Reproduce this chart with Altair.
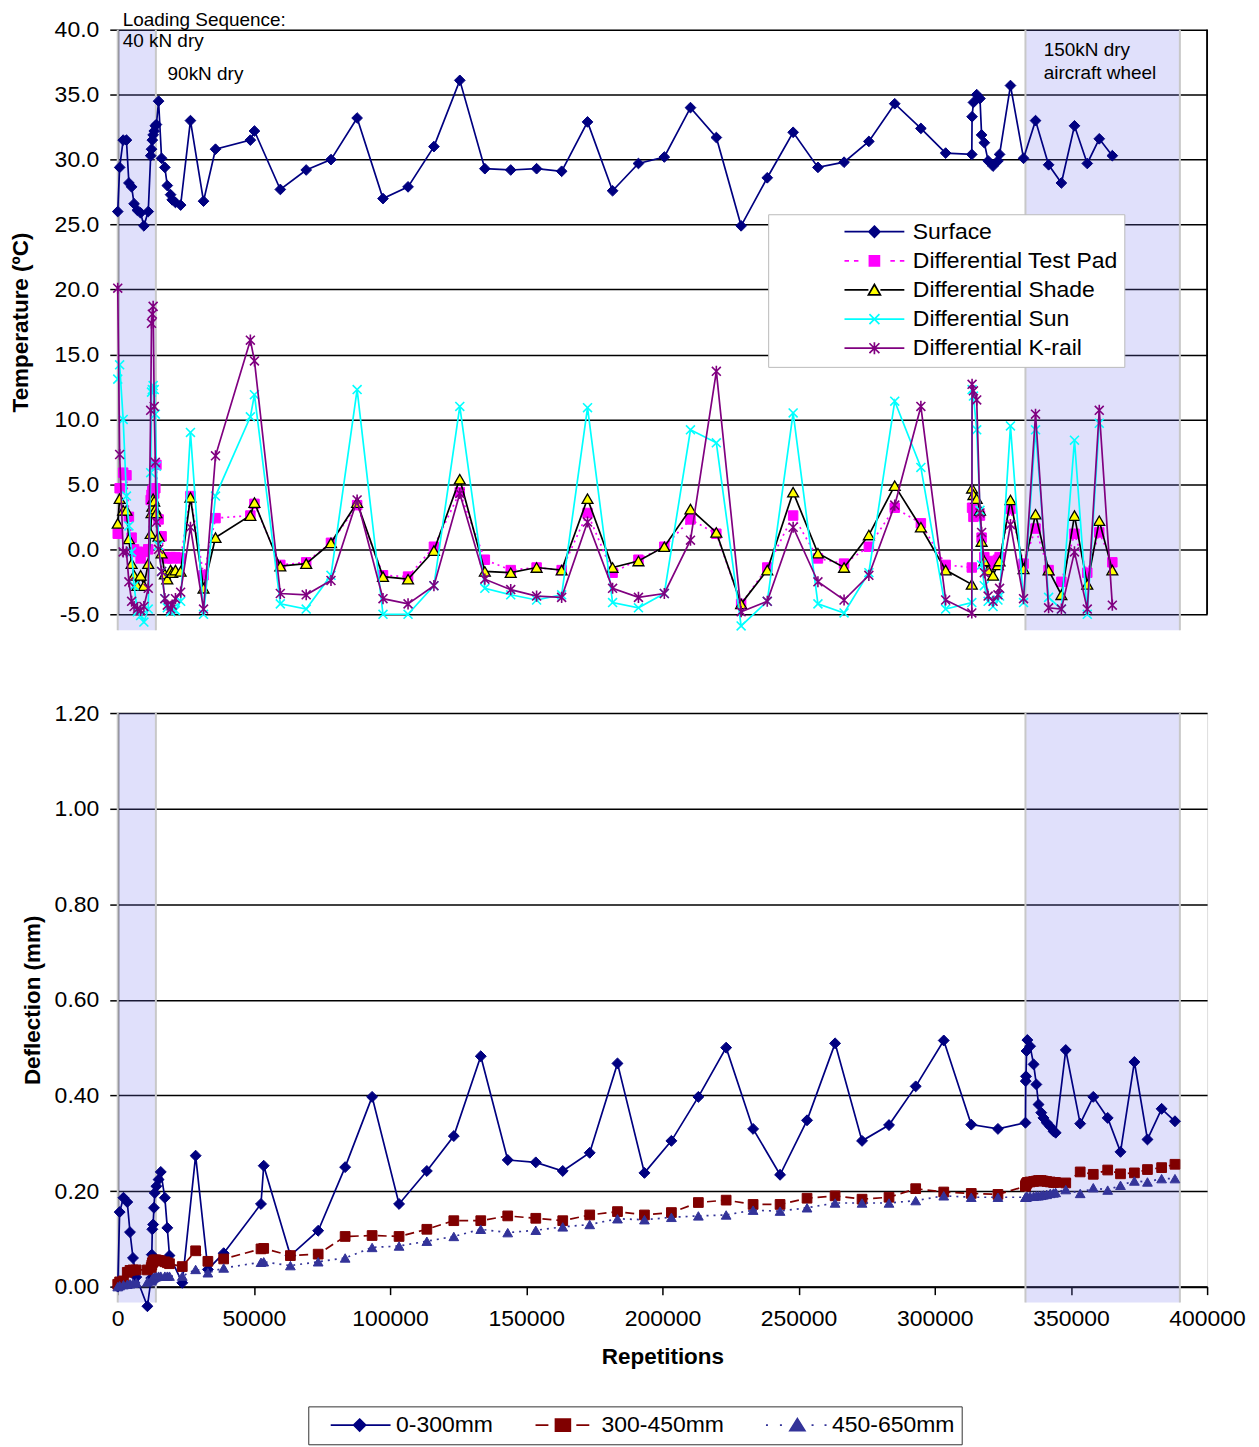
import altair as alt
import pandas as pd

FONT = "Liberation Sans"

# ---------------- Temperature panel ----------------
temp_reps = ([0, 700, 2000, 3200, 4100, 5100, 6000, 7200, 8400, 9600, 11200,
              12100, 12400, 12700, 13000, 13400, 13800, 14200, 15000, 16100, 17300,
              18200, 19400, 20000, 21200, 23100]
             + [26700, 31500, 35900, 48700, 50200, 59700, 69200, 78300, 87900, 97400,
                106600, 116100, 125600, 134800, 144300, 153800, 163000, 172500, 181700,
                191200, 200700, 210300, 219800, 228900, 238500, 248000, 257100, 266700,
                275800, 285300, 294900, 304000]
             + [313600, 313700, 314200, 315400, 316600, 317200, 318200, 319600, 321400,
                323200, 323800]
             + [327800, 332600, 337000, 341800, 346500, 351300, 356000, 360400, 365200])

surface = ([26.0, 29.4, 31.5, 31.5, 28.2, 27.9, 26.6, 26.1, 25.9, 24.9, 26.0, 30.3, 30.8,
            31.5, 31.9, 32.2, 32.6, 32.7, 34.5, 30.1, 29.4, 28.0, 27.3, 26.9, 26.7, 26.5]
           + [33.0, 26.8, 30.8, 31.5, 32.2, 27.7, 29.2, 30.0, 33.2, 27.0, 27.9, 31.0, 36.1,
              29.3, 29.2, 29.3, 29.1, 32.9, 27.6, 29.7, 30.2, 34.0, 31.7, 24.9, 28.6, 32.1,
              29.4, 29.8, 31.4, 34.3, 32.4, 30.5]
           + [30.4, 33.3, 34.4, 35.0, 34.7, 31.9, 31.3, 29.9, 29.5, 29.9, 30.4]
           + [35.7, 30.1, 33.0, 29.6, 28.2, 32.6, 29.7, 31.6, 30.3])

test_pad = ([1.2, 4.7, 5.9, 5.7, 2.5, 0.9, 0.0, -0.2, -0.7, -0.2, 0.0, 3.8, 4.2, 4.5, 4.6,
             4.3, 4.7, 6.5, 2.3, 1.0, -0.6, -0.7, -0.6, -0.7, -0.6, -0.7]
            + [4.1, -2.0, 2.4, 2.6, 3.5, -1.2, -1.0, 0.5, 3.4, -2.0, -2.1, 0.2, 4.4, -0.8,
               -1.6, -1.4, -1.6, 2.8, -1.8, -0.8, 0.2, 2.3, 1.2, -4.2, -1.4, 2.6, -0.7,
               -1.1, 0.2, 3.2, 2.0, -1.2]
            + [-1.4, 3.2, 2.5, 2.9, 2.6, 0.9, -0.6, -0.9, -1.2, -0.8, -0.6]
            + [3.1, -1.1, 1.6, -1.6, -2.5, 1.2, -1.8, 1.3, -1.0])

shade = ([2.0, 3.9, 3.0, 3.0, 0.8, -1.1, -2.0, -2.8, -2.0, -2.8, -1.1, 1.2, 2.8, 3.3, 3.9,
          3.7, 3.1, 2.8, 1.0, -0.3, -1.9, -2.3, -1.6, -1.8, -1.6, -1.7]
         + [4.0, -3.0, 0.9, 2.6, 3.6, -1.3, -1.1, 0.5, 3.6, -2.1, -2.3, -0.1, 5.4, -1.7,
            -1.8, -1.4, -1.6, 3.9, -1.4, -0.9, 0.2, 3.1, 1.3, -4.2, -1.6, 4.4, -0.3, -1.4,
            1.1, 4.9, 1.7, -1.6]
         + [-2.7, 4.7, 4.2, 3.9, 3.0, 0.6, -0.9, -1.6, -2.0, -1.2, -0.9]
         + [3.8, -1.5, 2.7, -1.6, -3.5, 2.6, -2.7, 2.2, -1.6])

sun = ([13.1, 14.2, 10.0, 4.1, 1.8, -0.2, -2.8, -4.8, -5.1, -5.6, -4.6, 5.9, 12.1, 12.3,
        12.6, 12.3, 10.4, 6.4, 0.3, -1.7, -3.8, -4.5, -4.8, -4.6, -4.7, -4.0]
       + [9.0, -5.0, 4.1, 10.2, 11.9, -4.2, -4.6, -2.0, 12.3, -5.0, -5.0, -2.8, 11.0, -3.0,
          -3.5, -3.9, -3.5, 10.9, -4.1, -4.5, -3.4, 9.2, 8.2, -5.9, -4.0, 10.5, -4.2, -4.9,
          -1.8, 11.4, 6.3, -4.6]
       + [-4.1, 12.3, 11.8, 9.2, 3.0, -1.2, -2.8, -4.0, -4.4, -3.9, -3.6]
       + [9.5, -4.1, 9.2, -3.7, -4.6, 8.4, -5.0, 9.7, None])

k_rail = ([20.1, 7.3, -0.2, -0.2, -2.5, -4.0, -4.4, -4.6, -4.7, -4.4, -3.0, 10.7, 17.4,
           18.1, 18.7, 11.0, 6.7, 2.1, 0.0, -1.7, -3.8, -4.3, -4.6, -4.3, -3.8, -3.3]
          + [1.7, -4.6, 7.2, 16.1, 14.5, -3.4, -3.5, -2.4, 3.8, -3.8, -4.2, -2.8, 4.3, -2.3,
             -3.1, -3.6, -3.7, 2.1, -3.0, -3.7, -3.4, 0.7, 13.7, -4.8, -4.0, 1.7, -2.5,
             -3.9, -2.0, 3.4, 11.0, -3.9]
          + [-4.9, 12.7, 12.2, 11.5, 2.8, 1.3, -1.8, -3.6, -4.0, -3.5, -3.0]
          + [1.9, -3.8, 10.4, -4.5, -4.6, -0.2, -4.6, 10.7, -4.3])

temp_series = ["Surface", "Differential Test Pad", "Differential Shade",
               "Differential Sun", "Differential K-rail"]

# ---------------- Deflection panel ----------------
defl_reps = ([0, 700, 2100, 3500, 4500, 5600, 6800, 10900, 12300, 12500, 12700, 13000,
              13300, 13600, 14200, 15000, 15800, 17300, 18200, 19000, 23700, 28600, 33100,
              38900, 52600, 53600, 63400, 73600, 83500, 93400, 103300, 113500, 123400,
              133300, 143200, 153500, 163400, 173300, 183500, 193400, 203300, 213200,
              223400, 233300, 243200, 253100, 263400, 273300, 283200, 293000, 303300,
              313400, 323200]
             + [333300, 333400, 333500, 333700, 334000, 335000, 336300, 337300, 338100,
                339100, 339900, 341100, 342400, 343600, 344400]
             + [348100, 353400, 358200, 363500, 368200, 373300, 378100, 383300, 388200])

d_0_300 = ([0.0, 0.156, 0.186, 0.177, 0.114, 0.060, 0.020, -0.041, 0.018, 0.067, 0.120,
            0.130, 0.165, 0.196, 0.210, 0.224, 0.240, 0.186, 0.123, 0.065, 0.008, 0.274,
            0.036, 0.070, 0.173, 0.253, 0.065, 0.117, 0.250, 0.397, 0.173, 0.242, 0.315,
            0.482, 0.265, 0.260, 0.242, 0.280, 0.467, 0.238, 0.305, 0.397, 0.500, 0.330,
            0.234, 0.348, 0.509, 0.305, 0.338, 0.419, 0.515, 0.339, 0.330]
           + [0.343, 0.430, 0.440, 0.493, 0.516, 0.503, 0.465, 0.423, 0.381, 0.364, 0.353,
              0.343, 0.335, 0.325, 0.322]
           + [0.495, 0.341, 0.397, 0.353, 0.282, 0.470, 0.308, 0.372, 0.346])

d_300_450 = ([0.005, 0.010, 0.012, 0.030, 0.034, 0.035, 0.035, 0.035, 0.040, 0.045, 0.050,
              0.052, 0.055, 0.056, 0.056, 0.055, 0.054, 0.052, 0.050, 0.048, 0.042, 0.075,
              0.053, 0.058, 0.079, 0.080, 0.065, 0.068, 0.105, 0.107, 0.105, 0.120, 0.138,
              0.138, 0.148, 0.143, 0.138, 0.150, 0.157, 0.150, 0.155, 0.176, 0.181, 0.172,
              0.172, 0.185, 0.190, 0.183, 0.187, 0.205, 0.198, 0.195, 0.193]
             + [0.210, 0.212, 0.214, 0.216, 0.218, 0.219, 0.220, 0.221, 0.222, 0.222, 0.221,
                0.220, 0.219, 0.218, 0.218]
             + [0.217, 0.240, 0.235, 0.244, 0.236, 0.238, 0.245, 0.249, 0.256])

d_450_650 = ([0.000, 0.002, 0.004, 0.005, 0.006, 0.007, 0.008, 0.010, 0.012, 0.014, 0.016,
              0.018, 0.019, 0.020, 0.021, 0.022, 0.022, 0.022, 0.022, 0.022, 0.022, 0.036,
              0.029, 0.039, 0.051, 0.052, 0.044, 0.052, 0.060, 0.082, 0.085, 0.095, 0.105,
              0.120, 0.113, 0.118, 0.125, 0.130, 0.142, 0.140, 0.145, 0.148, 0.150, 0.160,
              0.158, 0.165, 0.175, 0.175, 0.175, 0.180, 0.190, 0.187, 0.187]
             + [0.187, 0.187, 0.188, 0.188, 0.188, 0.189, 0.189, 0.190, 0.190, 0.191, 0.192,
                0.193, 0.195, 0.196, 0.197]
             + [0.203, 0.195, 0.207, 0.202, 0.212, 0.221, 0.219, 0.226, 0.226])

defl_series = ["0-300mm", "300-450mm", "450-650mm"]

# Loading-sequence shading (repetitions)
band_start = [0, 333300]
band_end = [14000, 390000]

# Annotations
ann_text = ["Loading Sequence:", "40 kN dry", "90kN dry", "150kN dry", "aircraft wheel"]
ann_reps = [1800, 1800, 18300, 340000, 340000]
ann_temp = [40.77, 39.15, 36.62, 38.46, 36.7]

# ---------------- build ----------------
W, HT, HB = 1092, 586, 575
xs = alt.Scale(domain=[0, 400000], nice=False, zero=False)
ts = alt.Scale(domain=[-5, 40], nice=False, zero=False)
ds = alt.Scale(domain=[0, 1.2], nice=False, zero=False)

temp_df = pd.DataFrame({"reps": temp_reps, "surface": surface, "test_pad": test_pad,
                        "shade": shade, "sun": sun, "k_rail": k_rail})
defl_df = pd.DataFrame({"reps": defl_reps, "d1": d_0_300, "d2": d_300_450, "d3": d_450_650})
band_df = pd.DataFrame({"start": band_start, "end": band_end})
ann_df = pd.DataFrame({"text": ann_text, "reps": ann_reps, "temp": ann_temp})

X_PATH = "M-1,-1L1,1M-1,1L1,-1"
STAR_PATH = "M-1,-1L1,1M-1,1L1,-1M0,-1.25L0,1.25"

axis_common = dict(grid=True, gridColor="black", gridWidth=1.5, domainColor="black",
                   domainWidth=2, tickColor="black", tickSize=8, tickWidth=1.5,
                   labelColor="black", titleColor="black", labelFont=FONT, titleFont=FONT,
                   labelFontSize=23, titleFontSize=22.5, titleFontWeight="bold",
                   labelPadding=11)

t_axis = alt.Axis(values=list(range(-5, 41, 5)), title="Temperature (ºC)",
                  labelExpr="datum.value < 0 ? '-' + format(-datum.value, '.1f') "
                            ": format(datum.value, '.1f')",
                  titlePadding=22, **axis_common)
d_axis = alt.Axis(values=[0, 0.2, 0.4, 0.6, 0.8, 1.0, 1.2], format=".2f",
                  title="Deflection (mm)", titlePadding=10, **axis_common)
x_axis = alt.Axis(values=list(range(0, 400001, 50000)), format="d", title="Repetitions",
                  labelOverlap=False, labelFlush=False, grid=False, domainColor="black",
                  domainWidth=2, tickColor="black", tickWidth=1.5, tickSize=8,
                  labelColor="black", titleColor="black", labelFont=FONT, titleFont=FONT,
                  labelFontSize=23, titleFontSize=22.5, titleFontWeight="bold",
                  labelPadding=13, titlePadding=15)


def bands(h, xaxis):
    base = alt.Chart(band_df)
    xs_start = alt.X("start:Q", scale=xs, axis=xaxis)
    rect = base.mark_rect(color="#7070EE", opacity=0.22).encode(
        x=xs_start, x2="end:Q", y=alt.value(0), y2=alt.value(h + 16))
    l1 = base.mark_rule(color="#C8C8C8", strokeWidth=2).encode(
        x=xs_start, y=alt.value(0), y2=alt.value(h + 16))
    l2 = base.mark_rule(color="#C8C8C8", strokeWidth=2).encode(
        x=alt.X("end:Q", scale=xs, axis=xaxis), y=alt.value(0), y2=alt.value(h + 16))
    return [rect, l1, l2]


def series(df, col, yscale, yaxis, xaxis, color, shape, size, fill=None, stroke=None,
           dash=None, pw=1.0, filled=True, lw=1.7):
    enc = dict(x=alt.X("reps:Q", scale=xs, axis=xaxis),
               y=alt.Y(f"{col}:Q", scale=yscale, axis=yaxis))
    lk = dict(color=color, strokeWidth=lw)
    if dash:
        lk["strokeDash"] = dash
    line = alt.Chart(df).mark_line(**lk).encode(**enc)
    if filled:
        pt = alt.Chart(df).mark_point(shape=shape, size=size, filled=True, fill=fill,
                                      stroke=stroke, strokeWidth=pw, opacity=1)
    else:
        pt = alt.Chart(df).mark_point(shape=shape, size=size, filled=False, color=stroke,
                                      strokeWidth=pw, opacity=1)
    return [line, pt.encode(**enc)]


def legend_layer(names, paths, fills, strokes, leg, yscale, yaxis, xaxis):
    # legend-only layer: rows sit outside the x domain and are clipped away
    df = pd.DataFrame({"series": names, "reps": [-200000] * len(names),
                       "val": [0] * len(names)})
    enc = dict(
        x=alt.X("reps:Q", scale=xs, axis=xaxis),
        y=alt.Y("val:Q", scale=yscale, axis=yaxis),
        shape=alt.Shape("series:N", scale=alt.Scale(domain=names, range=paths), legend=leg),
        fill=alt.Fill("series:N", scale=alt.Scale(domain=names, range=fills), legend=leg),
        stroke=alt.Stroke("series:N", scale=alt.Scale(domain=names, range=strokes), legend=leg),
    )
    return alt.Chart(df).mark_point(filled=True, size=400, clip=True, opacity=1,
                                    strokeWidth=1.7).encode(**enc)


# top legend symbols: line + marker drawn as one path
t_paths = [
    "M-1,0H5M2,-0.55L2.55,0L2,0.55L1.45,0Z",
    "M-1,0H-0.55M-0.05,0H0.4M1.5,-0.5H2.5V0.5H1.5ZM3.6,0H4.05M4.55,0H5",
    "M-1,0H1.4M2.6,0H5M2,-0.55L2.6,0.5L1.4,0.5Z",
    "M-1,0H5M1.5,-0.5L2.5,0.5M1.5,0.5L2.5,-0.5",
    "M-1,0H5M1.5,-0.5L2.5,0.5M1.5,0.5L2.5,-0.5M2,-0.6V0.6",
]
t_fills = ["#000080", "#FF00FF", "#FFFF00", "transparent", "transparent"]
t_strokes = ["#000080", "#FF00FF", "#000000", "#00FFFF", "#800080"]
t_leg = alt.Legend(title=None, orient="none", legendX=652, legendY=185, direction="vertical",
                   symbolSize=400, symbolStrokeWidth=1.7, symbolOpacity=1, symbolOffset=69,
                   labelOffset=47, labelFont=FONT, labelFontSize=23, labelColor="black",
                   rowPadding=5.2, padding=6, strokeColor="#BBBBBB", fillColor="white",
                   labelLimit=600)

d_paths = [
    "M-1,0H5M1.9,-0.6L2.5,0L1.9,0.6L1.3,0Z",
    "M-1.07,0H0.22M0.93,-0.6H2.42V0.6H0.93ZM3.02,0H4.32",
    "M-1.07,0H-0.87M0.33,0H0.53M2.08,-0.65L2.83,0.55L1.33,0.55ZM3.5,0H3.7M4.8,0H5",
]
d_fills = ["#000080", "#800000", "#333399"]
d_strokes = ["#000080", "#800000", "#333399"]
d_leg = alt.Legend(title=None, orient="none", legendX=191, legendY=695, direction="horizontal",
                   symbolSize=400, symbolStrokeWidth=1.7, symbolOpacity=1, symbolOffset=14,
                   labelOffset=44, labelFont=FONT, labelFontSize=23, labelColor="black",
                   columnPadding=27, padding=7, strokeColor="#333333", fillColor="white",
                   labelLimit=600)

# right-hand frame line of the temperature panel
frame = alt.Chart(band_df).mark_rule(color="black", strokeWidth=1.5).encode(
    x=alt.value(W), y=alt.value(0), y2=alt.value(HT))

TX = None  # top panel has no x axis
top_layers = bands(HT, TX)
top_layers += series(temp_df, "surface", ts, t_axis, TX, "#000080", "diamond", 115,
                     fill="#000080", stroke="#000080")
top_layers += series(temp_df, "test_pad", ts, t_axis, TX, "#FF00FF", "square", 90,
                     fill="#FF00FF", stroke="#FF00FF", dash=[2, 4])
top_layers += series(temp_df, "shade", ts, t_axis, TX, "#000000", "triangle-up", 120,
                     fill="#FFFF00", stroke="#000000", pw=1.3)
top_layers += series(temp_df, "sun", ts, t_axis, TX, "#00FFFF", X_PATH, 80,
                     stroke="#00FFFF", filled=False, pw=1.6)
top_layers += series(temp_df, "k_rail", ts, t_axis, TX, "#800080", STAR_PATH, 80,
                     stroke="#800080", filled=False, pw=1.6)
top_layers.append(frame)
top_layers.append(legend_layer(temp_series, t_paths, t_fills, t_strokes, t_leg, ts, t_axis, TX))
top_layers.append(
    alt.Chart(ann_df).mark_text(align="left", baseline="middle", font=FONT, fontSize=19,
                                color="black").encode(
        x=alt.X("reps:Q", scale=xs, axis=TX), y=alt.Y("temp:Q", scale=ts, axis=t_axis),
        text="text:N"))

top = alt.layer(*top_layers).properties(width=W, height=HT)

bot_layers = bands(HB, x_axis)
bot_layers += series(defl_df, "d1", ds, d_axis, x_axis, "#000080", "diamond", 120,
                     fill="#000080", stroke="#000080")
bot_layers += series(defl_df, "d2", ds, d_axis, x_axis, "#800000", "square", 95,
                     fill="#800000", stroke="#800000", dash=[9, 5])
bot_layers += series(defl_df, "d3", ds, d_axis, x_axis, "#333399", "triangle-up", 95,
                     fill="#333399", stroke="#333399", dash=[2, 5])
bot_layers.append(legend_layer(defl_series, d_paths, d_fills, d_strokes, d_leg, ds, d_axis,
                               x_axis))

bottom = alt.layer(*bot_layers).properties(width=W, height=HB)

chart = (alt.vconcat(top, bottom, spacing=67)
         .resolve_scale(shape="independent", fill="independent", stroke="independent")
         .resolve_legend(shape="independent", fill="independent", stroke="independent")
         .properties(padding={"left": 0, "top": 0, "right": 5, "bottom": 0})
         .configure_view(strokeWidth=0)
         .configure(background="white"))

chart.save("out.html", embed_options={"renderer": "svg", "actions": False})
